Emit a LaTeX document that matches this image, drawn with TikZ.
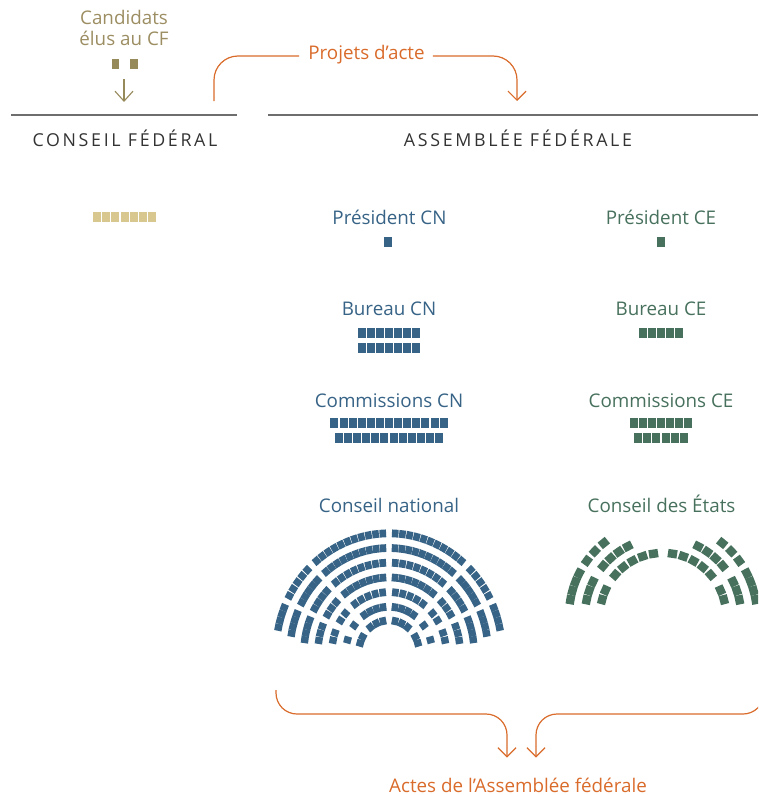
\documentclass[tikz,border=0pt]{standalone}
\usepackage{fontspec}
\setmainfont{Open Sans}
\usetikzlibrary{arrows.meta, positioning}

\definecolor{cnblue}{HTML}{376386}
\definecolor{cegreen}{HTML}{47715D}
\definecolor{candtext}{HTML}{9C8E62}
\definecolor{candseat}{HTML}{978A5A}
\definecolor{cfseat}{HTML}{D8C890}
\definecolor{acteorange}{HTML}{D96B2B}
\definecolor{rulegray}{HTML}{6E6E6E}
\definecolor{headgray}{HTML}{333333}

\tikzset{
  lbl/.style={anchor=base, inner sep=0pt, font=\fontsize{18.8}{22}\selectfont},
  head/.style={anchor=base, inner sep=0pt, text=headgray,
    font=\fontsize{17.8}{20}\selectfont\addfontfeatures{LetterSpace=15}},
  sepline/.style={draw=rulegray, line width=1.8pt},
  flowline/.style={draw=acteorange, line width=1.2pt},
  flow/.style={flowline, -{Straight Barb[length=9pt,width=18pt]}},
  candflow/.style={draw=candseat, line width=1.1pt, -{Straight Barb[length=10pt,width=18pt]}},
}

\begin{document}
\begin{tikzpicture}[x=1pt, y=1pt]
    \path[use as bounding box, clip] (0,0) rectangle (758,-795);

    % candidats
    \node[lbl, text=candtext] (cand) at (124,-24) {Candidats};
    \node[lbl, text=candtext] (elus) at (124,-45.7) {élus au CF};
    \fill[candseat] (111.75,-59) rectangle ++(7.5,-10);
    \fill[candseat] (130.25,-59) rectangle ++(7.5,-10);
    \coordinate (cand-out) at (124,-79);
    \coordinate (cf-in) at (124,-102);
    \draw[candflow] (cand-out) -- (cf-in);

    % headings
    \draw[sepline] (11,-115) -- (237,-115);
    \draw[sepline] (268,-115) -- (758,-115);
    \node[head] (cf) at (125,-146) {CONSEIL FÉDÉRAL};
    \node[head] (af) at (518,-146) {ASSEMBLÉE FÉDÉRALE};

    % projets d'acte
    \node[lbl, text=acteorange] (projets) at (366.5,-59.3) {Projets d’acte};
    \coordinate (cf-out) at (214,-101);
    \coordinate (af-in) at (517,-101);
    \draw[flowline, rounded corners=24pt] (cf-out) |- ([xshift=-9pt, yshift=3.3pt]projets.base west);
    \draw[flow, rounded corners=24pt] ([xshift=8pt, yshift=3.3pt]projets.base east) -| (af-in);

    % labels
    \node[lbl, text=cnblue] (pres-cn) at (389.5,-224) {Président CN};
    \node[lbl, text=cnblue] (bur-cn) at (389,-315) {Bureau CN};
    \node[lbl, text=cnblue] (com-cn) at (389,-407) {Commissions CN};
    \node[lbl, text=cnblue] (cn) at (389,-512) {Conseil national};
    \node[lbl, text=cegreen] (pres-ce) at (661,-224) {Président CE};
    \node[lbl, text=cegreen] (bur-ce) at (661,-315) {Bureau CE};
    \node[lbl, text=cegreen] (com-ce) at (661,-407) {Commissions CE};
    \node[lbl, text=cegreen] (ce) at (661.5,-512) {Conseil des États};

    % rows of seats
    \foreach \x/\y/\n/\col in {124.5/216.5/7/cfseat, 388/242/1/cnblue, 389/333/7/cnblue,
        389/348/7/cnblue, 389/423/13/cnblue, 389/438/12/cnblue, 660.5/242/1/cegreen,
        661/333/5/cegreen, 661/423/7/cegreen, 661/438/6/cegreen}
      \foreach \k in {1,...,\n}
        \fill[\col] (\x+\k*9.1-\n*4.55-8.55, -\y+5) rectangle ++(8,-10);

    % conseil national
    \coordinate (cn-c) at (389,-652);
    \foreach \rad/\lo/\hi in {113/90/133, 113/133/155, 113/155/171,
        99/90/133, 99/133/155, 99/155/173, 85/90/133, 85/133/155, 85/155/176,
        71/90/133, 71/133/155, 71/155/176, 57/90/133, 57/133/155, 57/155/175,
        43/90/133, 43/133/155, 43/155/174, 30/90/140, 30/140/175}{
      \pgfmathsetmacro\da{2.6/\rad*180/pi}
      \pgfmathsetmacro\st{\lo+\da}
      \pgfmathsetmacro\en{\hi-\da}
      \pgfmathtruncatemacro\nn{floor((\en-\st)*pi/180*\rad/7.1+0.4)}
      \ifnum\nn>0
        \foreach \k in {1,...,\nn}{
          \pgfmathsetmacro\ang{\st+(\k-0.5)*(\en-\st)/\nn}
          \fill[cnblue, shift={(cn-c)}, yscale=1.05, rotate=\ang-90] (-3.3,\rad-3.7) rectangle (3.3,\rad+3.7);
          \fill[cnblue, shift={(cn-c)}, yscale=1.05, rotate=90-\ang] (-3.3,\rad-3.7) rectangle (3.3,\rad+3.7);
        }
      \fi
    }

    % conseil des etats
    \coordinate (ce-c) at (663,-616);
    \foreach \rad/\lo/\hi/\nn in {63/93.6/144.4/5, 63/151.3/169.5/2, 78/113/143.9/4,
        78/150.5/171.5/3, 94/125.3/147.8/3, 94/150.2/172.8/4}
      \foreach \k in {1,...,\nn}{
        \pgfmathsetmacro\ang{\lo+(\k-0.5)*(\hi-\lo)/\nn}
        \fill[cegreen, shift={(ce-c)}, rotate=\ang-90] (-4.6,\rad-4.2) rectangle (4.6,\rad+4.2);
        \fill[cegreen, shift={(ce-c)}, rotate=90-\ang] (-4.6,\rad-4.2) rectangle (4.6,\rad+4.2);
      }

    % actes
    \node[lbl, text=acteorange] (actes) at (518,-792) {Actes de l’Assemblée fédérale};
    \coordinate (cn-out) at (276,-690);
    \coordinate (ce-out) at (764,-690);
    \coordinate (bus) at (0,-714);
    \coordinate (actes-l) at (507,-757.5);
    \coordinate (actes-r) at (536,-757.5);
    \draw[flow, rounded corners=21pt] (cn-out) |- (actes-l |- bus) -- (actes-l);
    \draw[flow, rounded corners=21pt] (ce-out) |- (actes-r |- bus) -- (actes-r);
\end{tikzpicture}
\end{document}
